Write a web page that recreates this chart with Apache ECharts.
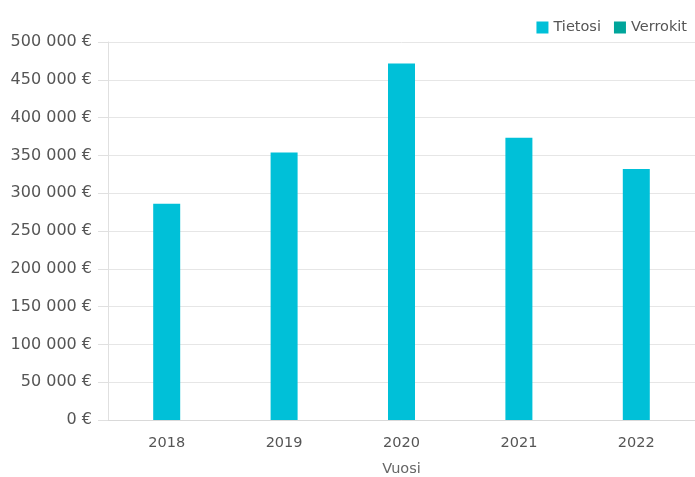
<!DOCTYPE html>
<html>
<head>
<meta charset="utf-8">
<script src="https://cdn.jsdelivr.net/npm/echarts@6/dist/echarts.min.js"></script>
<style>
  html, body { margin: 0; padding: 0; background: #fff; }
  #main { width: 695px; height: 477px; }
</style>
</head>
<body>
<div id="main"></div>
<script>
// data
var years = ['2018', '2019', '2020', '2021', '2022'];
var tietosi = [286000, 354000, 471500, 373500, 332000];
var verrokit = [];

var chart = echarts.init(document.getElementById('main'));

function euro(v) {
  return String(v).replace(/\B(?=(\d{3})+(?!\d))/g, ' ') + ' €';
}

var option = {
  animation: false,
  textStyle: { fontFamily: 'DejaVu Sans' },
  legend: {
    top: 15,
    right: 3,
    icon: 'rect',
    itemWidth: 12,
    itemHeight: 12,
    itemGap: 13,
    textStyle: { color: '#555', fontSize: 14.5, fontFamily: 'DejaVu Sans' },
    data: ['Tietosi', 'Verrokit']
  },
  grid: { left: 108, right: 0, top: 42, bottom: 57, outerBoundsMode: 'none' },
  xAxis: {
    type: 'category',
    data: years,
    name: 'Vuosi',
    nameLocation: 'middle',
    nameGap: 42,
    nameTextStyle: { color: '#666', fontSize: 14.5 },
    axisLine: { lineStyle: { color: '#d9d9d9' } },
    axisTick: { show: false },
    axisLabel: { color: '#555', fontSize: 14.5, margin: 16 }
  },
  yAxis: {
    type: 'value',
    min: 0,
    max: 500000,
    interval: 50000,
    axisLine: { show: true, lineStyle: { color: '#e0e0e0' } },
    axisTick: { show: true, length: 10, lineStyle: { color: '#e0e0e0' } },
    splitLine: { lineStyle: { color: '#e6e6e6' } },
    axisLabel: { color: '#555', fontSize: 16, margin: 16, formatter: euro }
  },
  series: [
    {
      name: 'Tietosi',
      type: 'bar',
      data: tietosi,
      barWidth: 27,
      barGap: '-100%',
      itemStyle: { color: '#00c0d8' }
    },
    {
      name: 'Verrokit',
      type: 'bar',
      data: verrokit,
      barWidth: 27,
      itemStyle: { color: '#00a59b' }
    }
  ]
};
chart.setOption(option);
</script>
</body>
</html>
